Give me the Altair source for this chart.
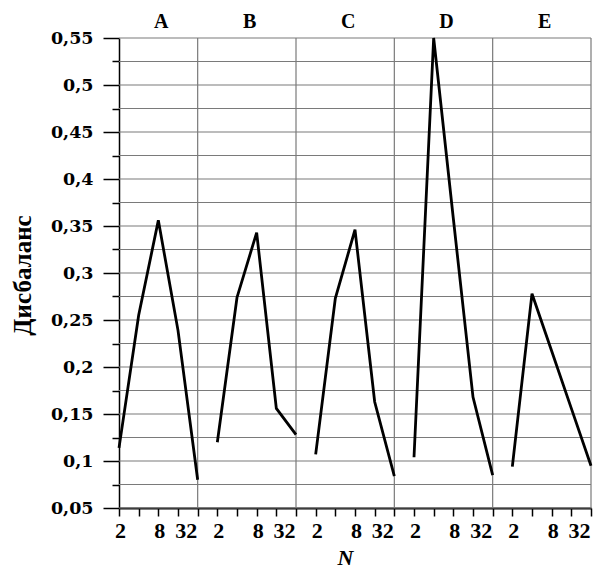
import json
import altair as alt
import pandas as pd

# Imbalance ("Дисбаланс") for N = 2..32 in five groups A–E
panels = ["A", "B", "C", "D", "E"]
n_values = [2, 4, 8, 16, 32]
labelled_n = [2, 8, 32]

imbalance_a = [0.114, 0.255, 0.356, 0.239, 0.080]
imbalance_b = [0.120, 0.274, 0.343, 0.156, 0.128]
imbalance_c = [0.107, 0.273, 0.346, 0.163, 0.084]
imbalance_d = [0.104, 0.550, 0.358, 0.168, 0.085]
imbalance_e = [0.094, 0.278, 0.217, 0.156, 0.095]
series = [imbalance_a, imbalance_b, imbalance_c, imbalance_d, imbalance_e]

y_min, y_max, y_step = 0.05, 0.55, 0.025

k = len(n_values)
rows = []
for p_idx, (panel, vals) in enumerate(zip(panels, series)):
    for n_idx, (n, v) in enumerate(zip(n_values, vals)):
        rows.append({"panel": panel, "N": n, "pos": p_idx * k + n_idx, "value": v})
df = pd.DataFrame(rows)

titles = pd.DataFrame({
    "panel": panels,
    "center": [max(i * k - 1, 0) / 2 + (i * k + k - 1) / 2 + 0.15 for i in range(len(panels))],
})

n_positions = len(panels) * k
tick_text = [str(n) if n in labelled_n else "" for n in n_values]
x_label_expr = f"{json.dumps(tick_text)}[datum.value % {k}]"

y_ticks = [round(y_min + y_step * i, 3) for i in range(int(round((y_max - y_min) / y_step)) + 1)]
major_test = "round(datum.value * 1000) % 50 == 0"

# grid lines: every y tick, and a vertical separator after each group
hgrid = pd.DataFrame({"y": y_ticks})
vgrid = pd.DataFrame({"x": [i * k + k - 1 for i in range(len(panels))]})

x_scale = alt.Scale(domain=[0, n_positions - 1], nice=False, zero=False)
y_scale = alt.Scale(domain=[y_min, y_max], nice=False, zero=False)

last_in_group = f"datum.value % {k} == {k - 1}"

x_axis = alt.Axis(
    values=list(range(n_positions)),
    labelExpr=x_label_expr,
    labelAngle=0,
    labelFont="Liberation Serif",
    labelFontWeight="bold",
    labelFontSize=22,
    labelColor="black",
    labelPadding=4,
    labelOverlap=False,
    labelFlush=False,
    labelBound=False,
    labelAlign={"condition": {"test": last_in_group, "value": "right"}, "value": "center"},
    labelOffset={"condition": {"test": last_in_group, "value": -1}, "value": 1},
    tickSize=8,
    tickColor="black",
    tickWidth=1.5,
    domainColor="black",
    domainWidth=2,
    grid=False,
    title="N",
    titleFont="Liberation Serif",
    titleFontStyle="italic",
    titleFontWeight="bold",
    titleFontSize=22,
    titleColor="black",
    titleX=226,
    titleY=49,
    titleAlign="center",
    titleBaseline="middle",
)

y_axis = alt.Axis(
    values=y_ticks,
    labelExpr=f"{major_test} ? replace(toString(round(datum.value * 1000) / 1000), '.', ',') : ''",
    labelFont="DejaVu Serif",
    labelFontWeight="bold",
    labelFontSize=17.5,
    labelColor="black",
    labelPadding=10,
    labelOverlap=False,
    labelFlush=False,
    labelBound=False,
    tickSize={"condition": {"test": major_test, "value": 16}, "value": 7},
    tickColor="black",
    tickWidth=1.5,
    domainColor="black",
    domainWidth=1.5,
    grid=False,
    title="Дисбаланс",
    titleFont="Liberation Serif",
    titleFontWeight="bold",
    titleFontSize=25,
    titleColor="black",
    titleAngle=270,
    titleX=-97,
    titleY=237,
    titleAlign="center",
    titleBaseline="middle",
)

grid_color = "#7a7a7a"

h_rules = alt.Chart(hgrid).mark_rule(color=grid_color, strokeWidth=1.2).encode(
    y=alt.Y("y:Q", scale=y_scale, axis=y_axis),
)

v_rules = alt.Chart(vgrid).mark_rule(color=grid_color, strokeWidth=1.2).encode(
    x=alt.X("x:Q", scale=x_scale, axis=x_axis),
)

lines = alt.Chart(df).mark_line(color="black", strokeWidth=2.8, strokeJoin="miter").encode(
    x=alt.X("pos:Q", scale=x_scale, axis=x_axis),
    y=alt.Y("value:Q", scale=y_scale, axis=y_axis),
    detail="panel:N",
    order="pos:Q",
)

panel_labels = alt.Chart(titles).mark_text(
    font="Liberation Serif", fontWeight="bold", fontSize=20, color="black", baseline="middle"
).encode(
    x=alt.X("center:Q", scale=x_scale, axis=x_axis),
    y=alt.value(-16),
    text="panel:N",
)

chart = alt.layer(h_rules, v_rules, lines, panel_labels).properties(
    width=472,
    height=470,
    background="white",
    autosize=alt.AutoSizeParams(type="none"),
    padding={"left": 119, "top": 38, "right": 4, "bottom": 61},
).configure_view(strokeWidth=0)

chart.save("out.html", embed_options={"renderer": "svg", "actions": False})
